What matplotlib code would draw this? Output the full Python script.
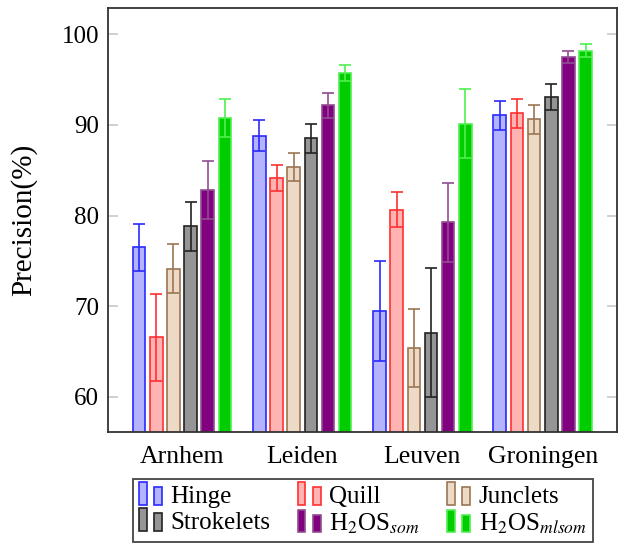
import matplotlib
matplotlib.use('Agg')
import matplotlib.pyplot as plt
import numpy as np
from matplotlib.patches import Patch, Rectangle
from matplotlib.legend_handler import HandlerBase

plt.rcParams['font.family'] = ['Liberation Serif', 'DejaVu Serif']
plt.rcParams['mathtext.fontset'] = 'stix'

# Datasets and methods
datasets = ['Arnhem', 'Leiden', 'Leuven', 'Groningen']
methods = ['Hinge', 'Quill', 'Junclets', 'Strokelets',
           r'H$_2$OS$_{som}$', r'H$_2$OS$_{mlsom}$']

# Mean precision (%) and error per dataset
hinge = [76.5, 88.8, 69.5, 91.05]
hinge_err = [2.6, 1.7, 5.5, 1.6]
quill = [66.6, 84.15, 80.65, 91.3]
quill_err = [4.8, 1.4, 1.9, 1.6]
junclets = [74.15, 85.35, 65.35, 90.6]
junclets_err = [2.7, 1.5, 4.3, 1.6]
strokelets = [78.8, 88.55, 67.1, 93.1]
strokelets_err = [2.7, 1.6, 7.1, 1.4]
som = [82.85, 92.15, 79.25, 97.5]
som_err = [3.2, 1.4, 4.4, 0.7]
mlsom = [90.75, 95.75, 90.15, 98.2]
mlsom_err = [2.1, 0.9, 3.8, 0.7]

values = [hinge, quill, junclets, strokelets, som, mlsom]
errors = [hinge_err, quill_err, junclets_err, strokelets_err, som_err, mlsom_err]

fills = ['#b3b3ff', '#ffb3b3', '#ecdac6', '#959595', '#800080', '#00cc00']
edges = ['#2a2aff', '#ff3030', '#9b7653', '#222222', '#914d91', '#4ff04f']


class TwoBars(HandlerBase):
    # legend key drawn as a tall bar followed by a shorter one
    def create_artists(self, legend, orig_handle, xdescent, ydescent,
                       width, height, fontsize, trans):
        x0, y0 = -xdescent, -ydescent - 0.1 * height
        fc = orig_handle.get_facecolor()
        ec = orig_handle.get_edgecolor()
        r1 = Rectangle((x0, y0), 0.3 * width, 1.3 * height,
                       facecolor=fc, edgecolor=ec, lw=1.2, transform=trans)
        r2 = Rectangle((x0 + 0.6 * width, y0), 0.32 * width, 1.0 * height,
                       facecolor=fc, edgecolor=ec, lw=1.2, transform=trans)
        return [r1, r2]


fig = plt.figure(figsize=(6.24, 5.5), dpi=100)
ax = fig.add_axes([0.1723, 0.214, 0.816, 0.7715])

x = np.arange(len(datasets))
step = 0.1427
width = 0.105
for i in range(len(methods)):
    pos = x + (i - 2.5) * step
    ax.bar(pos, values[i], width, color=fills[i], edgecolor=edges[i],
           linewidth=1.2, zorder=2)
    ax.errorbar(pos, values[i], yerr=errors[i], fmt='none',
                ecolor=edges[i], elinewidth=1.2, capsize=4, capthick=1.2,
                zorder=3)

ax.set_xlim(-0.62, 3.616)
ax.set_ylim(56.1, 102.9)
ax.set_yticks([60, 70, 80, 90, 100])
ax.set_xticks(x)
ax.set_xticklabels(datasets, fontsize=18.5)
ax.tick_params(axis='x', length=0, pad=10)
ax.tick_params(axis='y', direction='in', left=True, right=True,
               length=7.5, width=1.2, color='#c8c8c8', labelsize=18, pad=6)
ax.set_ylabel('Precision(%)', fontsize=21)
ax.yaxis.set_label_coords(-0.138, 0.5)
for s in ax.spines.values():
    s.set_color('#333333')
    s.set_linewidth(1.3)

# legend filled row by row: three entries per row
order = [0, 3, 1, 4, 2, 5]
handles = [Patch(facecolor=fills[i], edgecolor=edges[i]) for i in order]
labels = [methods[i] for i in order]
leg = fig.legend(handles, labels, loc='upper left', ncol=3, mode='expand',
                 bbox_to_anchor=(0.213, 0.0, 0.737, 0.129), fontsize=18,
                 handler_map={Patch: TwoBars()}, handlelength=1.0,
                 handletextpad=0.25, columnspacing=0.2, labelspacing=0.15,
                 borderpad=0.25, fancybox=False, framealpha=1,
                 edgecolor='#444444', borderaxespad=0)
leg.get_frame().set_linewidth(1.3)

fig.savefig('out.png', dpi=100)
